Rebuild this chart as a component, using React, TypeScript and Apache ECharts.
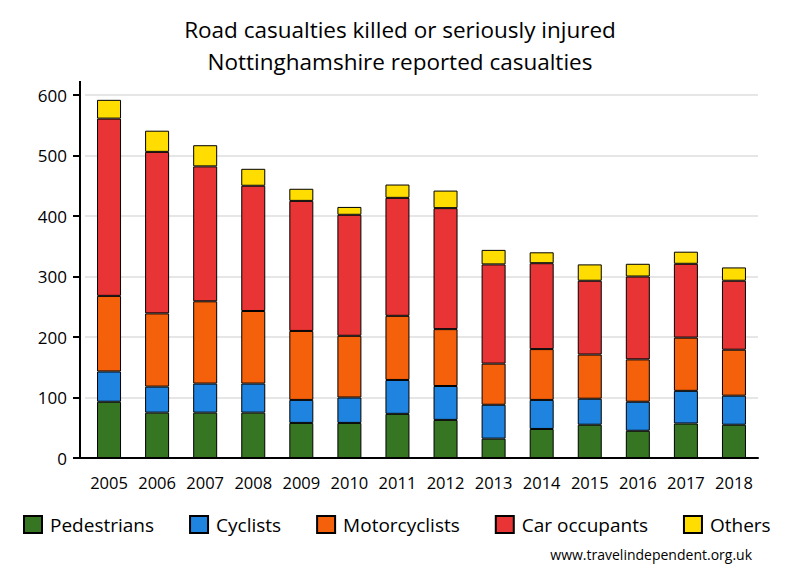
import React, { useEffect, useRef } from "react";
import * as echarts from "echarts";

const years = ["2005","2006","2007","2008","2009","2010","2011","2012","2013","2014","2015","2016","2017","2018"];
const pedestrians = [93, 75, 75, 75, 58, 58, 73, 63, 32, 48, 55, 45, 57, 55];
const cyclists = [50, 43, 48, 48, 38, 42, 56, 56, 56, 48, 43, 48, 54, 48];
const motorcyclists = [125, 121, 136, 120, 114, 102, 106, 94, 68, 84, 73, 70, 88, 76];
const carOccupants = [293, 267, 223, 207, 215, 200, 195, 200, 164, 142, 122, 137, 122, 114];
const others = [31, 35, 35, 28, 20, 13, 22, 29, 24, 18, 27, 21, 20, 22];

const seriesNames = ["Pedestrians", "Cyclists", "Motorcyclists", "Car occupants", "Others"];
const seriesData = [pedestrians, cyclists, motorcyclists, carOccupants, others];
const colors = ["#367622", "#1e84e0", "#f5600a", "#e83434", "#ffdd00"];

const FONT = "'Open Sans', sans-serif";

export default function App() {
  const ref = useRef<HTMLDivElement>(null);
  useEffect(() => {
    if (!ref.current) return;
    const chart = echarts.init(ref.current, undefined, { renderer: "svg" });
    chart.setOption({
      animation: false,
      backgroundColor: "#ffffff",
      textStyle: { fontFamily: FONT },
      title: {
        text: "Road casualties killed or seriously injured\nNottinghamshire reported casualties",
        left: "center",
        top: 8,
        textStyle: { fontFamily: FONT, fontSize: 22.5, fontWeight: "normal", color: "#000", lineHeight: 32 },
      },
      grid: { left: 85, right: 42, top: 95, bottom: 122 },
      legend: {
        data: seriesNames,
        left: 18,
        top: 510,
        icon: "rect",
        itemWidth: 18,
        itemHeight: 17,
        itemGap: 35,
        textStyle: { fontFamily: FONT, fontSize: 19, color: "#000", padding: [0, 0, 0, 3] },
      },
      xAxis: {
        type: "category",
        data: years,
        axisLine: { lineStyle: { color: "#000", width: 2 } },
        axisTick: { show: false },
        axisLabel: { color: "#000", fontSize: 16.5, margin: 16, fontFamily: FONT, interval: 0 },
      },
      yAxis: {
        type: "value",
        min: 0,
        max: 600,
        interval: 100,
        offset: 5,
        axisLine: { show: true, lineStyle: { color: "#000", width: 2 } },
        axisTick: { show: true, length: 7, lineStyle: { color: "#000", width: 2 } },
        axisLabel: { color: "#000", fontSize: 17, margin: 13, fontFamily: FONT },
        splitLine: { lineStyle: { color: "#e6e6e6", width: 2 } },
      },
      graphic: [
        { type: "line", shape: { x1: 73, y1: 458, x2: 86, y2: 458 }, style: { stroke: "#000", lineWidth: 2 } },
        { type: "line", shape: { x1: 80, y1: 81, x2: 80, y2: 96 }, style: { stroke: "#000", lineWidth: 2 } },
        {
          type: "text",
          right: 48,
          top: 547,
          style: { text: "www.travelindependent.org.uk", font: `14px ${FONT}`, fill: "#000" },
        },
      ],
      series: seriesNames.map((name, i) => ({
        name,
        type: "bar",
        stack: "total",
        barWidth: 24,
        data: seriesData[i],
        itemStyle: { color: colors[i], borderColor: "#000", borderWidth: 1 },
      })),
    });
    return () => chart.dispose();
  }, []);
  return <div ref={ref} style={{ width: 800, height: 580, position: "absolute", left: 0, top: 0 }} />;
}
